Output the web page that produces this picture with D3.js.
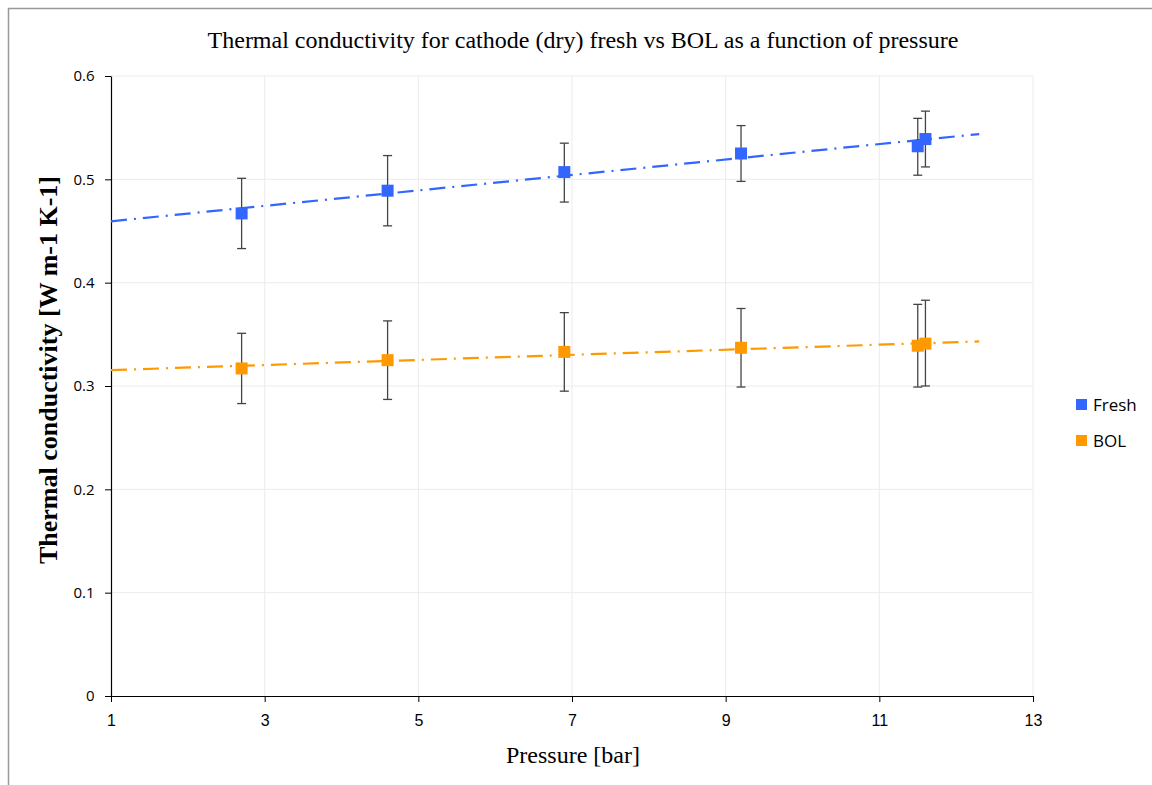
<!DOCTYPE html>
<html><head><meta charset="utf-8">
<script src="https://cdn.jsdelivr.net/npm/d3@7"></script>
<style>body{margin:0;background:#fff}svg{display:block}</style>
</head><body>
<svg id="chart" width="1152" height="785"></svg>
<script>
const pressure = [2.7, 4.6, 6.9, 9.2, 11.5, 11.6];
const freshValues = [0.467, 0.489, 0.507, 0.525, 0.532, 0.539];
const freshErrUp = [0.034, 0.034, 0.028, 0.027, 0.027, 0.027];
const freshErrDown = [0.034, 0.034, 0.029, 0.027, 0.028, 0.027];
const bolValues = [0.317, 0.325, 0.333, 0.337, 0.339, 0.341];
const bolErrUp = [0.034, 0.038, 0.038, 0.038, 0.040, 0.042];
const bolErrDown = [0.034, 0.038, 0.038, 0.038, 0.040, 0.041];
const trendRange = [1, 12.3];
const xTicks = [1, 3, 5, 7, 9, 11, 13];
const yTicks = [0, 0.1, 0.2, 0.3, 0.4, 0.5, 0.6];
const seriesNames = ["Fresh", "BOL"];
const seriesColors = ["#3366ff", "#ff9900"];

const svg = d3.select("#chart");
const x = d3.scaleLinear().domain([1, 13]).range([111, 1033]);
const y = d3.scaleLinear().domain([0, 0.6]).range([696, 76]);

// outer frame
svg.append("path").attr("d", "M8.5,785 V8.5 H1152").attr("fill", "none").attr("stroke", "#999").attr("stroke-width", 1.5);

// gridlines
svg.append("g").selectAll("line").data(xTicks.slice(1)).join("line")
  .attr("x1", d => x(d)).attr("x2", d => x(d)).attr("y1", y(0)).attr("y2", y(0.6))
  .attr("stroke", "#ececec").attr("stroke-width", 1);
svg.append("g").selectAll("line").data(yTicks.slice(1)).join("line")
  .attr("x1", x(1)).attr("x2", x(13)).attr("y1", d => y(d)).attr("y2", d => y(d))
  .attr("stroke", "#ececec").attr("stroke-width", 1);

// axes
const xAxis = svg.append("g").attr("transform", `translate(0,${y(0)})`)
  .call(d3.axisBottom(x).tickValues(xTicks).tickFormat(d3.format("d")).tickSize(6).tickSizeOuter(0));
xAxis.select(".domain").attr("stroke", "#000").attr("stroke-width", 1.2);
xAxis.selectAll(".tick line").attr("stroke", "#000");
xAxis.selectAll("text").attr("font-family", "'Liberation Sans Narrow', 'Liberation Sans', sans-serif")
  .attr("font-size", 16).attr("fill", "#000").attr("dy", "1.3em");

const yAxis = svg.append("g").attr("transform", `translate(${x(1)},0)`)
  .call(d3.axisLeft(y).tickValues(yTicks).tickFormat(d => d === 0 ? "0" : d3.format(".1f")(d)).tickSize(6).tickSizeOuter(0));
yAxis.select(".domain").attr("stroke", "#000").attr("stroke-width", 1.2);
yAxis.selectAll(".tick line").attr("stroke", "#000");
yAxis.selectAll("text").attr("font-family", "'Open Sans', 'DejaVu Sans', sans-serif")
  .attr("font-size", 15).attr("fill", "#000").attr("dx", "-0.5em");

// series
const series = [
  {name: seriesNames[0], color: seriesColors[0], vals: freshValues, up: freshErrUp, down: freshErrDown},
  {name: seriesNames[1], color: seriesColors[1], vals: bolValues, up: bolErrUp, down: bolErrDown}
];

function regression(xs, ys) {
  const mx = d3.mean(xs), my = d3.mean(ys);
  const sxy = d3.sum(xs, (v, i) => (v - mx) * (ys[i] - my));
  const sxx = d3.sum(xs, v => (v - mx) ** 2);
  const b = sxy / sxx;
  return v => my + b * (v - mx);
}

series.forEach(s => {
  const f = regression(pressure, s.vals);
  svg.append("path")
    .attr("d", d3.line().x(d => x(d)).y(d => y(f(d)))(trendRange))
    .attr("stroke", s.color).attr("stroke-width", 2.2).attr("fill", "none")
    .attr("stroke-dasharray", "16,7,2,7");
});

series.forEach(s => {
  const g = svg.append("g");
  const pts = pressure.map((p, i) => ({p, v: s.vals[i], hi: s.vals[i] + s.up[i], lo: s.vals[i] - s.down[i]}));
  g.selectAll("line.bar").data(pts).join("line")
    .attr("x1", d => x(d.p)).attr("x2", d => x(d.p)).attr("y1", d => y(d.hi)).attr("y2", d => y(d.lo))
    .attr("stroke", "#444").attr("stroke-width", 1.3);
  g.selectAll("line.capt").data(pts).join("line")
    .attr("x1", d => x(d.p) - 4.5).attr("x2", d => x(d.p) + 4.5).attr("y1", d => y(d.hi)).attr("y2", d => y(d.hi))
    .attr("stroke", "#444").attr("stroke-width", 1.3);
  g.selectAll("line.capb").data(pts).join("line")
    .attr("x1", d => x(d.p) - 4.5).attr("x2", d => x(d.p) + 4.5).attr("y1", d => y(d.lo)).attr("y2", d => y(d.lo))
    .attr("stroke", "#444").attr("stroke-width", 1.3);
  g.selectAll("rect").data(pts).join("rect")
    .attr("x", d => x(d.p) - 6).attr("y", d => y(d.v) - 6).attr("width", 12).attr("height", 12)
    .attr("fill", s.color);
});

// legend
const leg = svg.append("g");
series.forEach((s, i) => {
  leg.append("rect").attr("x", 1076).attr("y", 399 + i * 36).attr("width", 11).attr("height", 11).attr("fill", s.color);
  leg.append("text").attr("x", 1093).attr("y", 411 + i * 36).text(s.name)
    .attr("font-family", "'Open Sans', 'DejaVu Sans', sans-serif").attr("font-size", 17).attr("fill", "#000");
});

// titles
svg.append("text").attr("x", 583).attr("y", 48).attr("text-anchor", "middle")
  .attr("font-family", "'Liberation Serif', serif").attr("font-size", 24).attr("fill", "#000")
  .text("Thermal conductivity for cathode (dry) fresh vs BOL as a function of pressure");
svg.append("text").attr("x", 573).attr("y", 763).attr("text-anchor", "middle")
  .attr("font-family", "'Liberation Serif', serif").attr("font-size", 24).attr("fill", "#000")
  .text("Pressure [bar]");
svg.append("text").attr("transform", "translate(57,370) rotate(-90)").attr("text-anchor", "middle")
  .attr("font-family", "'Liberation Serif', serif").attr("font-size", 26).attr("font-weight", "bold").attr("fill", "#000")
  .text("Thermal conductivity [W m-1 K-1]");
</script>
</body></html>
